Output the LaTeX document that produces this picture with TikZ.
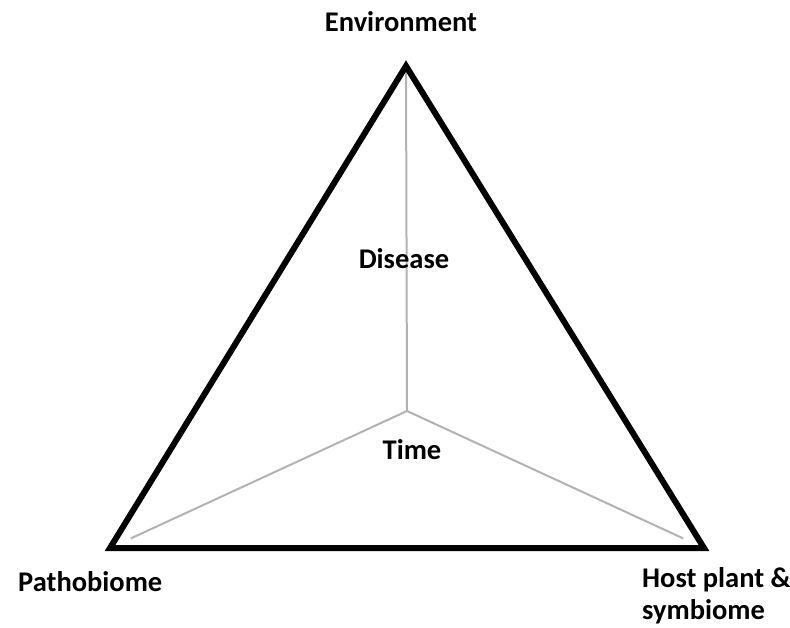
\documentclass[tikz,border=0pt]{standalone}
\usepackage{fontspec}
\usetikzlibrary{calc}
\setmainfont{Carlito}
\begin{document}
\begin{tikzpicture}[x=1pt,y=-1pt,
  lbl/.style={font=\bfseries\fontsize{28.5}{32}\selectfont, inner sep=0pt, align=left},
  spoke/.style={draw=black!30, line width=2pt},
  edge/.style={draw=black, line width=6pt, line join=miter}]
\useasboundingbox (0,0) rectangle (790,627);
\coordinate (top) at (406,66);
\coordinate (bl) at (110,548);
\coordinate (br) at (704,548);
\coordinate (c) at (407,411);
\draw[spoke] (c) -- (top);
\draw[spoke] (c) -- ($(c)!0.93!(bl)$);
\draw[spoke] (c) -- ($(c)!0.93!(br)$);
\draw[edge] (top) -- (bl) -- (br) -- cycle;
\node[lbl] (env) at (401,22) {Environment};
\node[lbl] (dis) at (404,259) {Disease};
\node[lbl] (time) at (412,450) {Time};
\node[lbl, anchor=west] (path) at (18,582) {Pathobiome};
\node[lbl, anchor=west] (host) at (642,596) {Host plant \&\\symbiome};
\end{tikzpicture}
\end{document}
